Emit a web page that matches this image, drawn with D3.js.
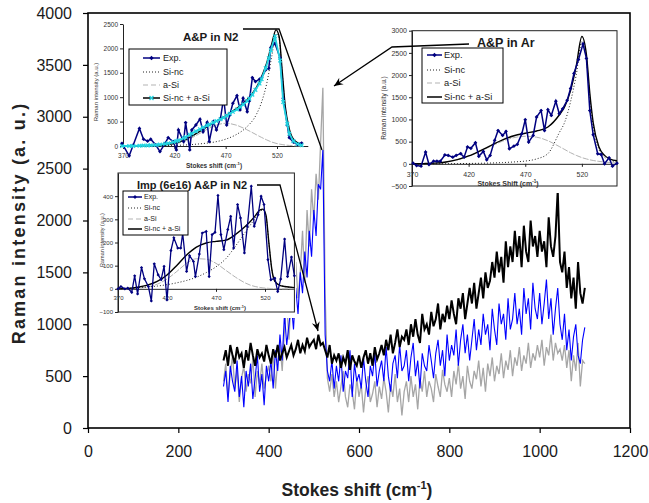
<!DOCTYPE html>
<html><head><meta charset="utf-8">
<script src="https://cdn.jsdelivr.net/npm/d3@7"></script>
<style>body{margin:0;background:#fff}svg{display:block}</style>
</head><body>
<svg id="c" width="649" height="503"></svg>
<script>
// ---------- main chart data ----------
const xTicks = [0,200,400,600,800,1000,1200];
const yTicks = [0,500,1000,1500,2000,2500,3000,3500,4000];
const mainX = [300,305,310,315,320,325,330,335,340,345,350,355,360,365,370,375,380,385,390,395,
400,405,410,415,420,425,430,435,440,445,450,455,460,465,470,475,480,485,490,495,
500,505,510,515,520,525,530,535,540,545,550,555,560,565,570,575,580,585,590,595,
600,605,610,615,620,625,630,635,640,645,650,655,660,665,670,675,680,685,690,695,
700,705,710,715,720,725,730,735,740,745,750,755,760,765,770,775,780,785,790,795,
800,805,810,815,820,825,830,835,840,845,850,855,860,865,870,875,880,885,890,895,
900,905,910,915,920,925,930,935,940,945,950,955,960,965,970,975,980,985,990,995,
1000,1005,1010,1015,1020,1025,1030,1035,1040,1045,1050,1055,1060,1065,1070,1075,1080,1085,1090,1095,1100];
const grayY = [450,620,300,520,700,380,560,250,480,600, 350,520,430,680,300,550,420,620,380,500,
600,450,720,380,650,800,550,950,1200,850, 1300,1050,1600,1250,1500,1900,1400,2100,1750,2300,
2000,2450,2200,2750,3280,1300,480,350,520,300, 450,250,400,550,300,200,420,350,180,480,
300,420,150,380,500,250,330,450,200,400, 280,480,350,150,420,300,520,250,380,120,
350,450,250,500,300,420,180,480,350,550, 300,450,380,250,520,400,300,560,420,350,
480,300,550,420,620,380,500,280,600,450, 380,550,470,650,400,580,350,620,500,680,
450,600,520,720,480,650,560,750,500,680, 600,780,550,700,620,820,580,720,650,800,
680,850,600,780,700,900,650,820,720,760, 650,800,580,750,450,700,550,820,400,650, 620];
const blueY = [400,550,250,600,450,350,650,300,500,200, 550,400,620,280,480,700,350,520,220,600,
450,650,380,750,550,900,650,1100,800,1000, 1200,950,1350,1100,1500,1300,1700,1450,1900,1650,
2100,1850,2350,2300,2680,900,550,450,650,380, 600,450,700,350,550,480,750,300,620,450,
520,380,680,450,300,600,500,720,400,550, 650,450,780,500,350,620,700,480,800,550,
600,750,450,680,820,500,650,380,720,600, 550,800,650,480,720,850,600,750,500,900,
650,800,700,950,600,850,1000,720,900,650, 850,1050,750,950,800,1100,900,1000,750,1150,
950,800,1200,1000,1100,850,1250,950,1050,1300, 1000,1150,900,1350,1100,1250,950,1400,1150,1050,
1300,1000,1200,1430,1050,1250,900,1150,1350,1000, 850,1100,750,950,650,880,1000,700,620,850, 970];
const blackY = [650,750,600,800,700,620,780,680,720,580, 750,650,820,700,600,760,680,720,640,800,
700,620,760,680,800,650,720,780,680,740, 800,700,760,850,720,800,740,870,780,820,
850,760,900,800,820,750,680,800,620,700, 650,720,580,680,620,750,560,700,640,600,
700,580,680,750,620,720,600,780,660,720, 800,700,850,750,900,720,820,950,780,880,
850,950,800,1000,880,1050,900,820,1100,950, 1000,900,1120,980,1050,1200,950,1100,1020,1180,
1050,1230,1100,1000,1250,1150,1300,1050,1200,1350, 1200,1400,1150,1300,1450,1250,1500,1350,1420,1600,
1450,1700,1500,1650,1400,1800,1550,1750,1600,1900, 1650,1850,1550,1950,1700,1600,2000,1750,1850,1650,
1900,1700,1800,1550,2030,1750,1650,1850,2290,1600, 1500,1700,1350,1550,1250,1450,1150,1600,1300,1200, 1350];

// ---------- inset data ----------
const insetXTicks = [370,420,470,520];
const legendLabels = ["Exp.","Si-nc","a-Si","Si-nc + a-Si"];
// A&P in N2
const n2YTicks = [0,500,1000,1500,2000,2500];
const n2ExpX = [369,376,380,386,390,394,397,402,406,411,414,419,422,424,429,431,435,437,441,445,448,452,454,458,461,465,468,471,474,477,481,484,487,491,493,496,499,503,505,509,512,514,518,523,526,530,532,536,540,544];
const n2ExpY = [55,-200,20,360,140,100,140,20,-115,55,170,90,-80,330,90,480,-80,330,430,550,290,485,90,500,330,570,980,430,635,875,1030,740,980,700,920,1400,1320,1370,1400,1560,1590,2020,2100,1810,980,430,170,80,30,60];
const n2CyanY = [0,0,0,5,10,12,15,20,30,45,55,80,100,115,160,185,230,255,300,345,380,420,440,480,510,550,580,620,660,700,750,800,850,920,970,1050,1150,1280,1370,1600,1800,1960,2250,1750,900,450,250,100,40,15];
const n2FitX = [370,380,390,400,410,420,430,440,450,460,470,480,490,500,505,510,515,519,522,525,528,532,537,545];
const n2SiNc = [0,0,2,5,8,12,20,35,55,85,140,230,380,650,900,1280,1850,2300,2200,1520,800,335,112,25];
const n2ASi = [0,0,2,5,15,40,100,200,320,420,465,430,340,230,175,125,80,55,40,30,20,12,5,0];
const n2Sum = [0,2,6,12,25,55,125,240,370,500,620,760,930,1200,1420,1700,2100,2380,2250,1550,820,345,115,25];
// A&P in Ar
const arYTicks = [-500,0,500,1000,1500,2000,2500,3000];
const arExpX = [371,374,378,382,385,389,392,395,399,402,406,409,413,416,419,422,426,429,433,436,439,443,446,450,453,456,460,463,467,470,473,477,480,484,487,490,493,497,500,503,507,510,513,517,521,524,527,530,534,537,540,544,547,551];
const arExpY = [15,-38,-53,264,-15,60,60,60,200,190,150,190,230,150,380,350,475,170,280,90,190,530,750,640,730,340,400,440,680,995,490,640,1055,1200,750,1220,1090,1410,1130,1240,1430,1700,2035,2350,2700,2375,1200,655,225,210,0,135,-53,15];
const arFitX = [370,380,390,400,410,420,430,440,450,460,470,480,490,500,505,510,515,520,524,527,530,535,540,545,551];
const arSiNc = [0,0,0,2,5,8,12,18,28,42,62,110,230,700,950,1400,2000,2750,2350,1500,850,330,150,80,50];
const arASi = [0,5,15,40,90,170,280,400,510,590,620,600,520,390,320,250,190,140,110,90,75,55,40,28,18];
const arSum = [0,5,15,42,95,178,292,418,538,632,690,740,830,1100,1300,1650,2200,2870,2460,1590,925,385,190,108,68];
// Imp (6e16) A&P in N2
const impYTicks = [-100,0,100,200,300,400];
const impExpX = [370,373,377,380,384,387,390,394,397,401,404,407,411,414,417,420,424,427,431,434,436,440,443,447,449,453,456,460,463,466,469,472,475,478,482,485,488,492,495,499,502,506,509,513,516,519,523,526,530,533,536,540,543,547,550];
const impExpY = [0,10,0,3,-15,56,-22,92,43,10,-52,108,60,40,97,-48,165,220,176,176,240,75,143,118,53,150,241,248,53,234,244,403,234,169,256,313,176,364,306,155,270,443,270,320,400,364,126,39,46,-12,42,215,53,137,56];
const impFitX = [370,380,390,400,410,420,430,440,450,460,470,480,490,500,505,510,515,518,521,524,527,530,535,540,550];
const impSiNc = [0,2,5,8,12,18,26,36,50,70,95,130,185,245,275,305,335,340,315,195,82,32,15,10,5];
const impASi = [0,0,2,8,20,42,75,110,130,128,110,80,50,25,16,10,6,4,3,2,1,1,0,0,0];
const impSum = [0,2,7,16,32,60,101,146,180,198,205,210,235,270,291,315,341,344,318,197,83,33,15,10,5];

// ---------- drawing ----------
const FONT = "'Liberation Sans', Arial, sans-serif";
const svg = d3.select("#c");
const x = d3.scaleLinear().domain([0,1200]).range([88,630]);
const y = d3.scaleLinear().domain([0,4000]).range([428,13]);
const fmt = d3.format("d");

const defs = svg.append("defs");
defs.append("marker").attr("id","arr").attr("viewBox","-10 -5 12 10").attr("refX",0).attr("refY",0)
  .attr("markerWidth",12).attr("markerHeight",10).attr("markerUnits","userSpaceOnUse").attr("orient","auto")
  .append("path").attr("d","M0,0 L-9,-4 L-6,0 L-9,4 Z").attr("fill","#000");

const mline = d3.line().x((d,i)=>x(mainX[i])).y(d=>y(d));
svg.append("path").attr("d",mline(grayY)).attr("fill","none").attr("stroke","#a6a6a6").attr("stroke-width",1.3);
svg.append("path").attr("d",mline(blueY)).attr("fill","none").attr("stroke","#0000ff").attr("stroke-width",1.1);
svg.append("path").attr("d",mline(blackY)).attr("fill","none").attr("stroke","#000").attr("stroke-width",2);

// axes
const gy = svg.append("g").attr("transform","translate(88,0)")
  .call(d3.axisLeft(y).tickValues(yTicks).tickSize(5).tickSizeOuter(0).tickPadding(11).tickFormat(fmt));
const gx = svg.append("g").attr("transform","translate(0,428)")
  .call(d3.axisBottom(x).tickValues(xTicks).tickSize(5).tickSizeOuter(0).tickPadding(13).tickFormat(fmt));
[gx,gy].forEach(g=>{
  g.select(".domain").remove();
  g.selectAll("line").attr("stroke","#000").attr("stroke-width",1.2);
  g.selectAll("text").attr("font-size",16).attr("font-family",FONT).attr("fill","#1a1a1a");
});
svg.append("rect").attr("x",88).attr("y",13).attr("width",542).attr("height",415)
  .attr("fill","none").attr("stroke","#000").attr("stroke-width",1.6);

svg.append("text").attr("transform","translate(25,223) rotate(-90)").attr("text-anchor","middle")
  .attr("font-family",FONT).attr("font-weight","bold").attr("font-size",18).attr("letter-spacing",2.2)
  .attr("fill","#222").text("Raman intensity (a. u.)");
const xt = svg.append("text").attr("x",357).attr("y",496).attr("text-anchor","middle")
  .attr("font-family",FONT).attr("font-weight","bold").attr("font-size",17.5).attr("fill","#222");
xt.append("tspan").text("Stokes shift (cm");
xt.append("tspan").attr("font-size",11).attr("dy",-7).text("-1");
xt.append("tspan").attr("dy",7).text(")");

// ---------- insets ----------
function diamond(g, cx, cy, r, col){
  g.append("path").attr("d",`M${cx},${cy-r}L${cx+r},${cy}L${cx},${cy+r}L${cx-r},${cy}Z`).attr("fill",col);
}
function cross(g, cx, cy, r, col){
  g.append("path").attr("d",`M${cx-r},${cy-r}L${cx+r},${cy+r}M${cx-r},${cy+r}L${cx+r},${cy-r}`)
    .attr("stroke",col).attr("stroke-width",1.3);
}
function inset(c){
  const g = svg.append("g");
  g.append("rect").attr("x",c.bg[0]).attr("y",c.bg[1]).attr("width",c.bg[2]-c.bg[0]).attr("height",c.bg[3]-c.bg[1]).attr("fill","#fff");
  const sx = d3.scaleLinear().domain(c.xd).range(c.xr);
  const sy = d3.scaleLinear().domain(c.yd).range(c.yr);
  if(c.frame) g.append("rect").attr("x",c.xr[0]).attr("y",c.yr[1]).attr("width",c.xr[1]-c.xr[0]).attr("height",c.yr[0]-c.yr[1])
      .attr("fill","none").attr("stroke","#222").attr("stroke-width",1);
  const ay = g.append("g").attr("transform",`translate(${c.xr[0]},0)`)
    .call(d3.axisLeft(sy).tickValues(c.yt).tickSize(3).tickSizeOuter(0).tickPadding(2).tickFormat(fmt));
  const ax = g.append("g").attr("transform",`translate(0,${sy(0)})`)
    .call(d3.axisBottom(sx).tickValues(insetXTicks).tickSize(3).tickSizeOuter(0).tickPadding(c.xpad).tickFormat(fmt));
  [ax,ay].forEach(a=>{
    a.select(".domain").attr("stroke","#222").attr("stroke-width",1);
    a.selectAll("line").attr("stroke","#222");
    a.selectAll("text").attr("font-size",c.fs).attr("font-family",FONT).attr("fill","#333");
  });
  // titles
  g.append("text").attr("transform",`translate(${c.ytl[0]},${c.ytl[1]}) rotate(-90)`).attr("text-anchor","middle")
    .attr("font-family",FONT).attr("font-size",c.fs-0.5).attr("fill","#333").text("Raman intensity (a.u.)");
  const t = g.append("text").attr("x",c.xtl[0]).attr("y",c.xtl[1]).attr("text-anchor","middle")
    .attr("font-family",FONT).attr("font-weight","bold").attr("font-size",c.fs).attr("fill","#333");
  t.append("tspan").text(c.xtlText);
  t.append("tspan").attr("font-size",c.fs*0.65).attr("dy",-c.fs*0.4).text("-1");
  t.append("tspan").attr("dy",c.fs*0.4).text(")");
  // series
  const fit = arr => d3.line().curve(d3.curveMonotoneX).x((d,i)=>sx(c.fitX[i])).y(d=>sy(d))(arr);
  g.append("path").attr("d",fit(c.aSi)).attr("fill","none").attr("stroke","#b3b3b3").attr("stroke-width",1).attr("stroke-dasharray","6,1.5");
  g.append("path").attr("d",fit(c.siNc)).attr("fill","none").attr("stroke","#222").attr("stroke-width",1).attr("stroke-dasharray","1,2");
  g.append("path").attr("d",fit(c.sum)).attr("fill","none").attr("stroke","#000").attr("stroke-width",c.sw);
  const ex = d3.line().x((d,i)=>sx(c.expX[i])).y(d=>sy(d));
  g.append("path").attr("d",ex(c.expY)).attr("fill","none").attr("stroke","#000080").attr("stroke-width",c.ew);
  c.expY.forEach((v,i)=>diamond(g, sx(c.expX[i]), sy(v), c.mr, "#000080"));
  if(c.cyanY){
    g.append("path").attr("d",ex(c.cyanY)).attr("fill","none").attr("stroke","#22d3e0").attr("stroke-width",1.8);
    c.cyanY.forEach((v,i)=>cross(g, sx(c.expX[i]), sy(v), 1.8, "#22d3e0"));
  }
  // title
  g.append("text").attr("x",c.title[1]).attr("y",c.title[2]).attr("font-family",FONT).attr("font-weight","bold")
    .attr("font-size",c.title[3]).attr("fill","#1a1a1a").text(c.title[0]);
  // legend
  const L = c.leg;
  g.append("rect").attr("x",L.x).attr("y",L.y).attr("width",L.w).attr("height",L.h).attr("fill","#fff").attr("stroke","#000").attr("stroke-width",1);
  legendLabels.forEach((lab,i)=>{
    const yy = L.rows[i];
    const ln = g.append("line").attr("x1",L.s0).attr("x2",L.s1).attr("y1",yy).attr("y2",yy).attr("fill","none");
    if(i===0){ ln.attr("stroke","#000080").attr("stroke-width",1.5); diamond(g,(L.s0+L.s1)/2,yy,c.mr+0.3,"#000080"); }
    if(i===1){ ln.attr("stroke","#222").attr("stroke-dasharray","1,2"); }
    if(i===2){ ln.attr("stroke","#b3b3b3").attr("stroke-dasharray","5,3"); }
    if(i===3){ ln.attr("stroke","#000").attr("stroke-width",1.5); if(c.cyanY) cross(g,(L.s0+L.s1)/2,yy,2,"#22d3e0"); }
    g.append("text").attr("x",L.tx).attr("y",yy).attr("dy","0.35em").attr("font-family",FONT)
      .attr("font-size",L.fs).attr("fill","#1a1a1a").text(lab);
  });
  // annotation
  g.append("path").attr("d",d3.line()(c.ann)).attr("fill","none").attr("stroke","#000").attr("stroke-width",1.3)
    .attr("marker-end", c.arrow ? "url(#arr)" : null);
}

inset({bg:[92,15,312,171], xd:[370,550], xr:[123,307.8], yd:[0,2500], yr:[146,24], frame:false,
  yt:n2YTicks, xpad:4, fs:6.5, ytl:[98,92], xtl:[214,168], xtlText:"Stokes shift (cm",
  fitX:n2FitX, siNc:n2SiNc, aSi:n2ASi, sum:n2Sum, expX:n2ExpX, expY:n2ExpY, cyanY:n2CyanY,
  sw:1.4, ew:1.5, mr:1.9,
  title:["A&P in N2",183,41,11.5],
  leg:{x:129,y:49,w:98,h:56,rows:[58,72,85,98],s0:143,s1:160,tx:163,fs:9},
  ann:[[243,29],[279,29],[322,150]], arrow:false});

inset({bg:[372,22,627,193], xd:[370,551], xr:[412,617], yd:[-500,3000], yr:[186,30.7], frame:true,
  yt:arYTicks, xpad:5, fs:7, ytl:[386,108], xtl:[508,186], xtlText:"Stokes Shift (cm",
  fitX:arFitX, siNc:arSiNc, aSi:arASi, sum:arSum, expX:arExpX, expY:arExpY,
  sw:1.4, ew:1.5, mr:1.9,
  title:["A&P in Ar",477,47,12.5],
  leg:{x:422,y:48,w:81,h:55,rows:[55,70,83,97],s0:427,s1:442,tx:444,fs:9.3},
  ann:[[469,44],[392,47],[334,86]], arrow:true});

inset({bg:[96,171,296,318], xd:[370,550], xr:[118,294.4], yd:[-100,500], yr:[312,173], frame:true,
  yt:impYTicks, xpad:4, fs:6, ytl:[104,240], xtl:[220,310], xtlText:"Stokes shift (cm",
  fitX:impFitX, siNc:impSiNc, aSi:impASi, sum:impSum, expX:impExpX, expY:impExpY,
  sw:1.4, ew:1.3, mr:1.6,
  title:["Imp (6e16) A&P in N2",137,189,11],
  leg:{x:123,y:191,w:65,h:44,rows:[197,208,219,229],s0:128,s1:142,tx:144,fs:7},
  ann:[[257,185],[280,185],[318,331]], arrow:true});
</script>
</body></html>
